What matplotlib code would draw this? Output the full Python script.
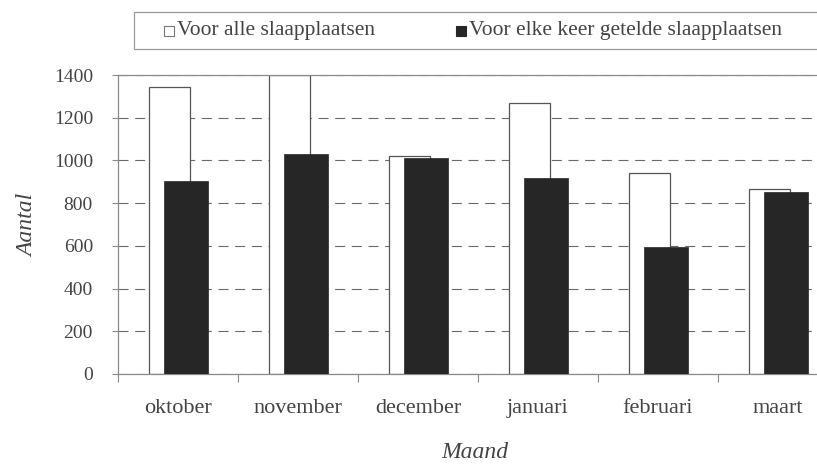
import numpy as np
import matplotlib.pyplot as plt
from matplotlib.patches import Rectangle

plt.rcParams['font.family'] = ['Liberation Serif', 'DejaVu Serif']

# data
months = ['oktober', 'november', 'december', 'januari', 'februari', 'maart']
series = ['Voor alle slaapplaatsen', 'Voor elke keer getelde slaapplaatsen']
alle = [1345, 1400, 1020, 1268, 940, 868]
elke_keer = [905, 1030, 1012, 920, 595, 850]
yticks = [0, 200, 400, 600, 800, 1000, 1200, 1400]

txt = '#444444'
line = '#8a8a8a'
W, H = 817, 470

fig = plt.figure(figsize=(W / 100, H / 100), dpi=100)
# plot area runs past the right edge of the picture, like the scan
ax = fig.add_axes([118/W, 96/H, 720/W, 299/H])

x = np.arange(len(months))
ax.bar(x - 0.07, alle, width=0.34, color='white', edgecolor='#555555',
       linewidth=0.9, zorder=2)
ax.bar(x + 0.066, elke_keer, width=0.367, color='#262626', edgecolor='#262626',
       linewidth=0.5, zorder=3)

ax.set_xlim(-0.5, 5.5)
ax.set_ylim(0, 1400)
ax.set_yticks(yticks)
ax.set_yticklabels([str(v) for v in yticks], fontsize=14, color=txt)
ax.yaxis.grid(True, linestyle=(0, (9, 6)), color='#6a6a6a', linewidth=0.8, zorder=0)

# category boundaries get the tick marks, labels sit in the middle
ax.set_xticks(np.arange(-0.5, 6, 1))
ax.set_xticklabels([])
ax.set_xticks(x, minor=True)
ax.set_xticklabels(months, minor=True, fontsize=16, color=txt)
ax.tick_params(axis='x', which='major', length=6, direction='out', color=line)
ax.tick_params(axis='x', which='minor', length=0, pad=18)
ax.tick_params(axis='y', length=4, direction='out', color=line, pad=14)

for s in ['left', 'bottom', 'top']:
    ax.spines[s].set_color(line)
    ax.spines[s].set_linewidth(0.9)
ax.spines['right'].set_visible(False)

fig.text(475/W, 1 - 453/H, 'Maand', fontsize=17, style='italic',
         color=txt, ha='center', va='center')
fig.text(28/W, 1 - 225/H, 'Aantal', fontsize=17, style='italic',
         color=txt, ha='center', va='center', rotation=90)

# legend box across the top, cut off at the right like the scan
fig.patches.append(Rectangle((134/W, 1 - 49/H), 720/W, 37/H, transform=fig.transFigure,
                             facecolor='white', edgecolor='#9a9a9a', linewidth=0.9))
fig.patches.append(Rectangle((164/W, 1 - 36/H), 10/W, 10/H, transform=fig.transFigure,
                             facecolor='white', edgecolor='#777777', linewidth=0.8))
fig.patches.append(Rectangle((456/W, 1 - 36/H), 10/W, 10/H, transform=fig.transFigure,
                             facecolor='#262626', edgecolor='#262626', linewidth=0.8))
fig.text(177/W, 1 - 31/H, series[0], fontsize=15.5, color=txt, va='center')
fig.text(469/W, 1 - 31/H, series[1], fontsize=15.5, color=txt, va='center')

fig.savefig('out.png', dpi=100)
